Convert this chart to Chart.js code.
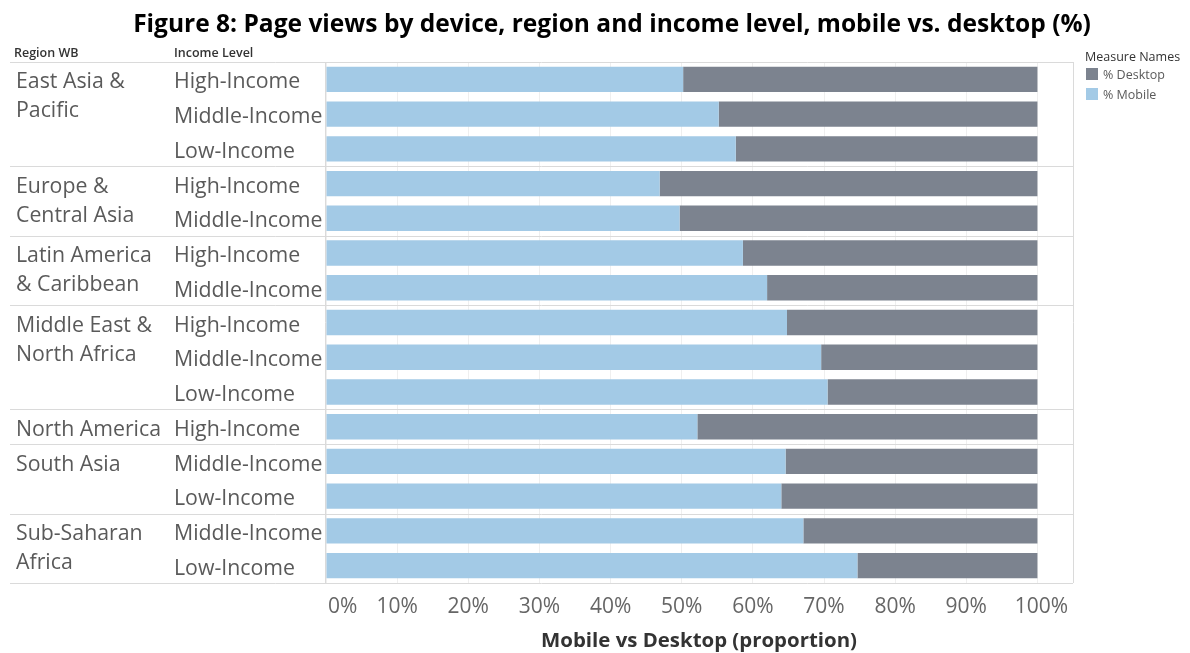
<!DOCTYPE html>
<html>
<head>
<meta charset="utf-8">
<script src="https://cdn.jsdelivr.net/npm/chart.js@4.4.1/dist/chart.umd.min.js"></script>
<style>
  html, body { margin: 0; padding: 0; background: #ffffff; }
  #wrap { width: 1190px; height: 653px; position: relative; }
</style>
</head>
<body>
<div id="wrap"><canvas id="chart" width="1190" height="653"></canvas></div>
<script>
// ---- data ----
const chartTitle = 'Figure 8: Page views by device, region and income level, mobile vs. desktop (%)';
const axisTitle = 'Mobile vs Desktop (proportion)';
const headerRegion = 'Region WB';
const headerIncome = 'Income Level';
const legendTitle = 'Measure Names';

const regionLabels = [
  ['East Asia &', 'Pacific'],
  ['Europe &', 'Central Asia'],
  ['Latin America', '& Caribbean'],
  ['Middle East &', 'North Africa'],
  ['North America'],
  ['South Asia'],
  ['Sub-Saharan', 'Africa']
];
const regionRowCounts = [3, 2, 2, 3, 1, 2, 2];

const incomeLevels = [
  'High-Income', 'Middle-Income', 'Low-Income',
  'High-Income', 'Middle-Income',
  'High-Income', 'Middle-Income',
  'High-Income', 'Middle-Income', 'Low-Income',
  'High-Income',
  'Middle-Income', 'Low-Income',
  'Middle-Income', 'Low-Income'
];

const mobileShare  = [50.2, 55.2, 57.6, 46.9, 49.7, 58.6, 62.0, 64.8, 69.6, 70.5, 52.2, 64.6, 64.0, 67.1, 74.7];
const desktopShare = [49.8, 44.8, 42.4, 53.1, 50.3, 41.4, 38.0, 35.2, 30.4, 29.5, 47.8, 35.4, 36.0, 32.9, 25.3];

const tickValues = [0, 10, 20, 30, 40, 50, 60, 70, 80, 90, 100];
const tickLabels = ['0%', '10%', '20%', '30%', '40%', '50%', '60%', '70%', '80%', '90%', '100%'];

const seriesMobile = '% Mobile';
const seriesDesktop = '% Desktop';

// ---- styles ----
const COLOR_MOBILE = '#a3cae6';
const COLOR_DESKTOP = '#7c838f';
const TEXT_GREY = '#5a5a5a';
const RULE_GREY = '#dadada';
const LABEL_FONT = '"Open Sans", "Noto Sans", sans-serif';

function fitFont(ctx, text, weight, family, targetWidth) {
  let size = 20;
  ctx.font = `${weight} ${size}px ${family}`;
  const w = ctx.measureText(text).width;
  size = size * targetWidth / w;
  return `${weight} ${size.toFixed(2)}px ${family}`;
}

// Draws the region / income table on the left, rules, tick labels, titles and legend
const tablePlugin = {
  id: 'tableLayout',
  beforeDatasetsDraw(chart) {
    const { ctx, chartArea: a, scales: { y } } = chart;
    ctx.save();
    ctx.strokeStyle = RULE_GREY;
    ctx.lineWidth = 1;
    const half = (y.getPixelForValue(1) - y.getPixelForValue(0)) / 2;
    // horizontal rules: top, between regions, bottom
    const rules = [y.getPixelForValue(0) - half];
    let idx = 0;
    regionRowCounts.forEach(n => {
      idx += n;
      rules.push(y.getPixelForValue(idx - 1) + half);
    });
    rules.forEach(py => {
      const yy = Math.round(py) + 0.5;
      ctx.beginPath();
      ctx.moveTo(10, yy);
      ctx.lineTo(a.right, yy);
      ctx.stroke();
    });
    // pane borders
    ctx.beginPath();
    ctx.moveTo(a.left - 0.5, a.top);
    ctx.lineTo(a.left - 0.5, a.bottom);
    ctx.moveTo(Math.round(a.right) + 0.5, a.top);
    ctx.lineTo(Math.round(a.right) + 0.5, a.bottom);
    ctx.stroke();
    ctx.restore();
  },
  afterDraw(chart) {
    const { ctx, chartArea: a, scales: { x, y } } = chart;
    ctx.save();

    // title
    ctx.fillStyle = '#000000';
    ctx.textAlign = 'center';
    ctx.textBaseline = 'middle';
    ctx.font = fitFont(ctx, chartTitle, 'bold', '"Open Sans", sans-serif', 958);
    ctx.fillText(chartTitle, 612, 25);

    // column headers
    ctx.fillStyle = '#333333';
    ctx.textAlign = 'left';
    ctx.font = `600 12.5px ${LABEL_FONT}`;
    ctx.fillText(headerRegion, 14, 53);
    ctx.fillText(headerIncome, 174, 53);

    // income labels
    ctx.font = `21.3px ${LABEL_FONT}`;
    ctx.fillStyle = TEXT_GREY;
    incomeLevels.forEach((lab, i) => {
      ctx.fillText(lab, 174, y.getPixelForValue(i) + 3);
    });

    // region labels
    let row = 0;
    regionLabels.forEach((lines, r) => {
      const py = y.getPixelForValue(row) + 3;
      lines.forEach((ln, k) => ctx.fillText(ln, 16, py + k * 29));
      row += regionRowCounts[r];
    });

    // x tick labels
    ctx.fillStyle = '#666666';
    ctx.font = `21px ${LABEL_FONT}`;
    tickValues.forEach((v, i) => {
      const px = x.getPixelForValue(v);
      if (i === 0) {
        ctx.textAlign = 'left';
        ctx.fillText(tickLabels[i], px + 2, 607);
      } else {
        ctx.textAlign = 'center';
        ctx.fillText(tickLabels[i], px + (i === tickValues.length - 1 ? 4 : 0), 607);
      }
    });

    // axis title
    ctx.fillStyle = '#333333';
    ctx.textAlign = 'center';
    ctx.font = fitFont(ctx, axisTitle, 'bold', '"Open Sans", sans-serif', 316);
    ctx.fillText(axisTitle, 699, 641);

    // legend
    ctx.textAlign = 'left';
    ctx.font = `12.5px ${LABEL_FONT}`;
    ctx.fillStyle = '#333333';
    ctx.fillText(legendTitle, 1085, 57);
    const items = [[seriesDesktop, COLOR_DESKTOP], [seriesMobile, COLOR_MOBILE]];
    items.forEach(([name, col], k) => {
      const cy = 74 + k * 20;
      ctx.fillStyle = col;
      ctx.fillRect(1086, cy - 6, 12, 12);
      ctx.fillStyle = TEXT_GREY;
      ctx.fillText(name, 1103, cy + 1);
    });

    ctx.restore();
  }
};

new Chart(document.getElementById('chart'), {
  type: 'bar',
  data: {
    labels: incomeLevels.map((l, i) => i),
    datasets: [
      { label: seriesMobile, data: mobileShare, backgroundColor: COLOR_MOBILE,
        barPercentage: 0.73, categoryPercentage: 1.0 },
      { label: seriesDesktop, data: desktopShare, backgroundColor: COLOR_DESKTOP,
        barPercentage: 0.73, categoryPercentage: 1.0 }
    ]
  },
  options: {
    indexAxis: 'y',
    responsive: false,
    devicePixelRatio: 1,
    animation: false,
    layout: { padding: { left: 326, right: 117, top: 62, bottom: 70 } },
    plugins: {
      legend: { display: false },
      title: { display: false },
      tooltip: { enabled: false }
    },
    scales: {
      x: {
        stacked: true,
        min: 0,
        max: 105,
        afterBuildTicks: scale => {
          scale.ticks = tickValues.map(v => ({ value: v }));
        },
        ticks: { display: false },
        grid: { color: '#efefef', drawTicks: false },
        border: { display: false }
      },
      y: {
        stacked: true,
        display: false
      }
    }
  },
  plugins: [tablePlugin]
});
</script>
</body>
</html>
